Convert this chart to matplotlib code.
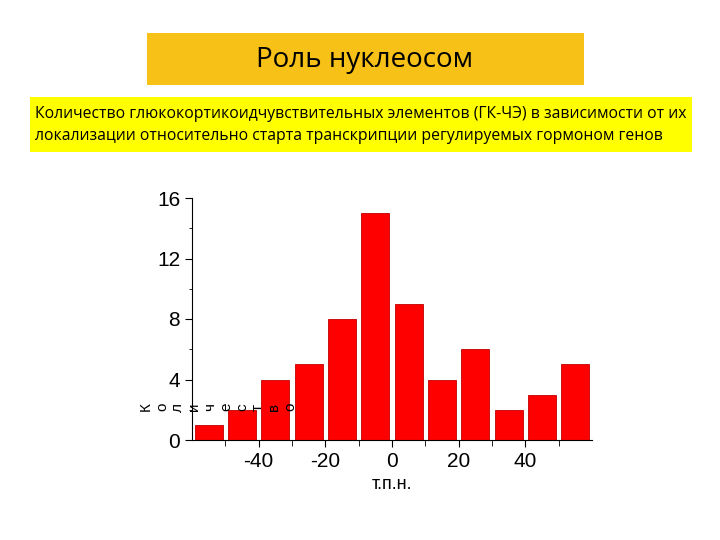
import matplotlib
matplotlib.use("Agg")
import matplotlib.pyplot as plt
from matplotlib.patches import Rectangle

centers = [-55, -45, -35, -25, -15, -5, 5, 15, 25, 35, 45, 55]
counts = [1, 2, 4, 5, 8, 15, 9, 4, 6, 2, 3, 5]
xticks = [-40, -20, 0, 20, 40]
yticks = [0, 4, 8, 12, 16]

plt.rcParams['font.family'] = ['Liberation Sans', 'DejaVu Sans']
plt.rcParams['axes.unicode_minus'] = False
fig = plt.figure(figsize=(7.2, 5.4), dpi=100)

fig.patches.append(Rectangle((147/720, 1-85/540), 437/720, 52/540, transform=fig.transFigure,
                             facecolor='#F7C118', edgecolor='none'))
fig.text(365/720, 1-60/540, "Роль нуклеосом", ha='center', va='center', fontsize=20,
         family=['Open Sans', 'DejaVu Sans'])
fig.patches.append(Rectangle((30/720, 1-152/540), 662/720, 55/540, transform=fig.transFigure,
                             facecolor='#FFFF00', edgecolor='none'))
fig.text(35/720, 1-125/540,
         "Количество глюкокортикоидчувствительных элементов (ГК-ЧЭ) в зависимости от их\n"
         "локализации относительно старта транскрипции регулируемых гормоном генов",
         ha='left', va='center', fontsize=11.3, linespacing=1.45, family=['Open Sans', 'DejaVu Sans'])

ax = fig.add_axes([192/720, 1-440/540, 400/720, 242/540])
ax.bar(centers, counts, width=8.4, color='#FF0000', edgecolor='#C00000', linewidth=0.6)
ax.set_xlim(-60, 60)
ax.set_ylim(0, 16)
ax.set_xticks(xticks)
ax.set_xticks(range(-50, 60, 10), minor=True)
ax.set_yticks(yticks)
ax.set_yticks(range(0, 17, 2), minor=True)
ax.tick_params(axis='x', direction='out', length=5, labelsize=15)
ax.tick_params(axis='x', which='minor', length=4)
ax.tick_params(axis='y', direction='out', length=5, labelsize=15)
ax.tick_params(axis='y', which='minor', length=2)
for s in ['top', 'right']:
    ax.spines[s].set_visible(False)
ax.set_xlabel("т.п.н.", fontsize=13)

label = "Количество"
for i, ch in enumerate(label):
    fig.text((150 + i * 16) / 720, 1 - 407 / 540, ch, rotation=90, rotation_mode='anchor',
             ha='center', va='baseline', fontsize=11)

fig.savefig("out.png", dpi=100)
